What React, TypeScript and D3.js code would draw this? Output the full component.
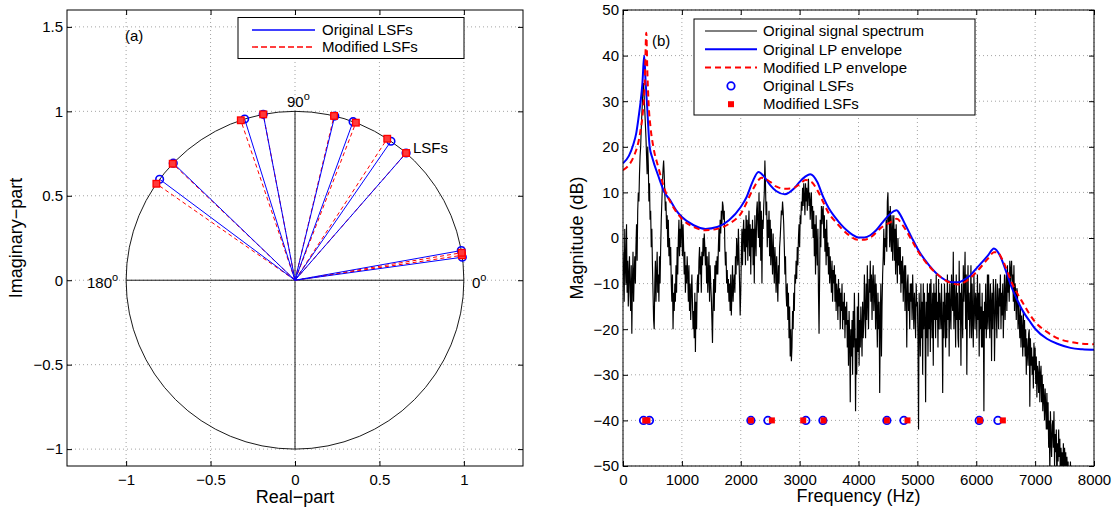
import React, { useRef, useEffect } from 'react';
import * as d3 from 'd3';

const FONT = '"Liberation Sans", Arial, Helvetica, sans-serif';
const NYQ = 8000; // Hz, half of the 16 kHz sampling rate

// line spectral frequencies (Hz)
const origLSF = [348, 450, 2172, 2461, 3106, 3395, 4482, 4771, 6050, 6368];
const modLSF = [377, 416, 2172, 2529, 3061, 3406, 4482, 4832, 6062, 6452];

// original LP envelope
const envOrigHz = [0, 100, 175, 225, 265, 300, 330, 360, 385, 405, 453, 500, 600, 705, 800, 900, 1000, 1200, 1400, 1600, 1800, 2000, 2100, 2200, 2300, 2400, 2500, 2600, 2750, 2900, 3000, 3100, 3180, 3300, 3400, 3500, 3600, 3700, 3800, 3900, 4000, 4100, 4200, 4300, 4400, 4500, 4600, 4650, 4700, 4800, 4900, 5000, 5200, 5400, 5600, 5700, 5800, 5900, 6000, 6100, 6200, 6300, 6400, 6500, 6600, 6700, 6800, 6900, 7000, 7200, 7400, 7600, 7800, 8000];
const envOrigDb = [16.4, 18, 20.5, 23, 26.5, 30, 34, 40, 34, 30, 20, 17.5, 13.6, 10, 8.3, 6.1, 4.6, 2.8, 2, 2.4, 3.9, 6.8, 9, 12.3, 14.5, 13.4, 11.6, 10.3, 9.6, 10.8, 12.3, 13.5, 14, 12.3, 9, 6.4, 4.6, 3, 1.7, 0.7, 0.1, 0.1, 0.6, 1.7, 3.3, 4.8, 5.9, 6.1, 5.3, 2.8, 0.2, -2.3, -6, -8.6, -9.7, -9.7, -9.1, -8.2, -6.7, -5.3, -3.8, -2.3, -3.8, -7.1, -10.8, -13.7, -16.2, -18.1, -19.9, -22.1, -23.3, -24.1, -24.4, -24.5];

// modified LP envelope
const envModHz = [0, 100, 180, 290, 340, 370, 395, 415, 433, 470, 515, 600, 727, 800, 1000, 1200, 1400, 1600, 1800, 2000, 2200, 2300, 2350, 2500, 2600, 2750, 2900, 3000, 3100, 3200, 3300, 3400, 3500, 3600, 3800, 4000, 4100, 4200, 4400, 4550, 4650, 4750, 4900, 5000, 5200, 5400, 5600, 5700, 5800, 6000, 6200, 6300, 6350, 6450, 6500, 6600, 6700, 6800, 6900, 7000, 7200, 7400, 7600, 7800, 8000];
const envModDb = [14.9, 16, 17.8, 23, 28, 34, 45, 36, 30, 24, 20, 15.5, 10, 8, 4.2, 2.4, 1.7, 2, 3.1, 5.3, 10.5, 12.7, 13.2, 12.3, 11.3, 10.8, 11, 11.8, 12.7, 12.3, 10.5, 7.9, 5.3, 3.7, 1, -0.4, -0.4, 0.1, 2.4, 3.5, 4.2, 2.8, -0.4, -2.7, -6.2, -8.6, -10, -10.2, -9.7, -7.5, -4.5, -3.1, -3.1, -4.9, -6.4, -9.7, -12.2, -14.4, -16.6, -18.4, -20.6, -22.1, -22.8, -23.2, -23.3];

// original signal spectrum, one value every 10 Hz from 0 Hz (one row per 100 Hz)
const specStep = 10;
const spectrumDb = [
  -3, -8, -14, 2, -6, -10, 3, -12, -5, -15,
  -8, -4, -12, -16, -6, -21, -10, -3, -14, -8,
  -4, -10, -2, 3, -5, 6, 10, 8, 14, 18,
  20, 24, 27, 30, 33, 34, 31, 28, 25, 22,
  18, 14, 20, 16, 8, 12, 4, 6, -2, 2,
  -6, -12, -18, -20, -10, -5, -14, -8, -3, -12,
  -8, -14, -4, -10, -2, 4, 8, 12, 15, 17,
  14, 10, 6, 8, 2, 5, -2, 4, -4, 0,
  -6, -2, -10, -14, -8, -20, -12, -16, -10, -14,
  -6, -12, -2, -8, 0, 4, -4, 2, -2, 5,
  2, -4, 3, -2, -8, -3, -12, -6, -10, -4,
  -8, -14, -6, -16, -10, -18, -12, -8, -14, -20,
  -16, -22, -12, -25, -14, -20, -10, -8, -12, -5,
  -2, -8, -4, -12, -3, -6, 0, -4, 1, -2,
  -6, -2, -10, -4, -12, -8, -3, -14, -6, -10,
  -13, -18, -23, -14, -9, -16, -6, -12, -5, -8,
  -4, -8, -2, 2, -3, 4, 1, 6, 3, 8,
  7, 4, 6, -2, -6, -3, -10, -7, -12, -9,
  -14, -10, -16, -8, -17, -12, -6, -14, -10, -8,
  -12, -4, -8, 0, -3, -6, 2, -4, -10, -17,
  -12, -4, 2, -6, 1, 4, -3, 2, -6, 5,
  -2, 4, -5, 2, 6, -4, 3, -8, 2, -2,
  4, -6, 2, -10, 5, 0, -4, 6, 8, 3,
  0, 10, -2, 8, -5, 6, -10, 4, 2, 7,
  10, 17, 12, 5, 8, -2, 4, 0, 6, -4,
  4, -6, 2, -3, -8, 1, -5, -10, -2, -6,
  -12, -4, -9, -14, -6, -10, -2, 0, 3, 6,
  5, 8, 6, 3, -2, -8, -4, -12, -15, -10,
  -18, -12, -22, -15, -26, -20, -27, -24, -16, -20,
  -12, -16, -8, -10, -5, -9, -2, -6, 0, 3,
  -2, 5, 3, 8, 6, 11, 7, 12, 9, 5,
  12, 8, 11, 6, 10, 13, 7, 10, 4, 8,
  10, 2, 7, 0, 6, -4, 3, -8, 5, -2,
  -6, 2, -12, -21, -8, 4, -2, 7, 3, 6,
  7, 0, 5, -3, 2, -6, 4, -4, -1, -8,
  -2, -10, -4, -8, -12, -5, -14, -7, -10, -6,
  -14, -8, -16, -10, -12, -18, -9, -15, -11, -20,
  -12, -16, -10, -20, -14, -18, -12, -22, -15, -19,
  -14, -24, -18, -28, -16, -22, -36, -20, -26, -18,
  -30, -16, -24, -12, -20, -38, -22, -30, -15, -25,
  -12, -28, -18, -24, -15, -20, -26, -14, -22, -18,
  -8, -16, -22, -10, -18, -6, -14, -20, -9, -12,
  -5, -14, -8, -18, -10, -6, -16, -12, -8, -20,
  -10, -16, -24, -12, -20, -14, -34, -18, -10, -26,
  -15, -8, -4, 2, -6, 0, -2, 4, -3, 8,
  10, 3, 6, -2, 7, 0, -3, 5, -5, 2,
  5, -5, 2, -8, 3, -4, -10, 0, -6, -2,
  -8, -2, -12, -5, -10, -4, -14, -8, -6, -16,
  -6, -12, -24, -10, -8, -16, -12, -20, -10, -14,
  -10, -18, -8, -14, -20, -12, -16, -22, -10, -15,
  -14, -22, -42, -12, -18, -26, -10, -22, -14, -30,
  -10, -20, -12, -18, -36, -14, -22, -10, -26, -12,
  -20, -10, -25, -9, -16, -22, -12, -28, -10, -18,
  -12, -22, -8, -18, -14, -24, -9, -20, -12, -16,
  -20, -10, -18, -34, -14, -22, -10, -16, -24, -12,
  -22, -8, -18, -12, -26, -10, -16, -20, -8, -14,
  -16, -3, -20, -10, -14, -24, -8, -18, -12, -22,
  -24, -5, -18, -12, -28, -10, -16, -22, -6, -14,
  -10, -3, -20, -8, -30, -14, -6, -18, -12, -22,
  -16, -6, -22, -10, -18, -24, -8, -14, -20, -12,
  -14, -22, -8, -18, -12, -26, -10, -20, -15, -24,
  -12, -24, -16, -38, -14, -20, -10, -22, -18, -8,
  -20, -8, -16, -22, -10, -14, -27, -12, -20, -9,
  -12, -27, -18, -9, -16, -22, -10, -14, -20, -11,
  -15, -8, -20, -12, -17, -10, -22, -14, -8, -18,
  -12, -8, -16, -6, -12, -9, -14, -5, -10, -7,
  -5, -10, -8, -14, -6, -16, -10, -12, -18, -11,
  -12, -20, -14, -18, -22, -15, -24, -17, -20, -26,
  -16, -24, -18, -26, -20, -30, -22, -25, -28, -21,
  -20, -37, -22, -28, -24, -30, -26, -33, -23, -29,
  -24, -32, -26, -35, -28, -30, -34, -27, -36, -30,
  -28, -36, -30, -38, -32, -35, -40, -33, -37, -42,
  -34, -42, -36, -46, -40, -52, -38, -44, -48, -41,
  -40, -46, -38, -50, -43, -47, -42, -55, -45, -49,
  -42, -48, -44, -55, -46, -50, -47, -53, -45, -56,
  -46, -50, -47, -56, -48, -52, -49, -58, -51, -54,
  -49, -58, -53, -62, -55, -65, -60, -68, -63, -70,
];

const leftXTicks = [-1, -0.5, 0, 0.5, 1];
const leftYTicks = [-1, -0.5, 0, 0.5, 1, 1.5];
const rightXTicks = [0, 1000, 2000, 3000, 4000, 5000, 6000, 7000, 8000];
const rightYTicks = [-50, -40, -30, -20, -10, 0, 10, 20, 30, 40, 50];
const markerLevel = -40;

const fmt = (d: any) => String(d).replace('-', '\u2212');

function frame(svg: any, x: any, y: any, xTicks: number[], yTicks: number[]) {
  const [xa, xb] = x.range();
  const [yb, ya] = y.range();
  const grid = svg.append('g')
    .attr('stroke', '#8c8c8c')
    .attr('stroke-width', 0.8)
    .attr('stroke-dasharray', '1,3');
  grid.selectAll('.gx').data(xTicks).join('line')
    .attr('x1', (d: number) => x(d)).attr('x2', (d: number) => x(d))
    .attr('y1', ya).attr('y2', yb);
  grid.selectAll('.gy').data(yTicks).join('line')
    .attr('y1', (d: number) => y(d)).attr('y2', (d: number) => y(d))
    .attr('x1', xa).attr('x2', xb);
}

function axes(svg: any, x: any, y: any, xTicks: number[], yTicks: number[]) {
  const [xa, xb] = x.range();
  const [yb, ya] = y.range();
  const style = (g: any) => {
    g.select('.domain').remove();
    g.selectAll('line').attr('stroke', 'black');
    g.selectAll('text').attr('font-size', 15).attr('fill', 'black').attr('font-family', FONT);
  };
  svg.append('g').attr('transform', `translate(0,${yb})`)
    .call(d3.axisBottom(x).tickValues(xTicks).tickSize(-5).tickPadding(8).tickFormat(fmt)).call(style);
  svg.append('g').attr('transform', `translate(0,${ya})`)
    .call(d3.axisTop(x).tickValues(xTicks).tickSize(-5).tickFormat(() => '')).call(style);
  svg.append('g').attr('transform', `translate(${xa},0)`)
    .call(d3.axisLeft(y).tickValues(yTicks).tickSize(-5).tickPadding(4).tickFormat(fmt)).call(style);
  svg.append('g').attr('transform', `translate(${xb},0)`)
    .call(d3.axisRight(y).tickValues(yTicks).tickSize(-5).tickFormat(() => '')).call(style);
  svg.append('rect')
    .attr('x', xa).attr('y', ya).attr('width', xb - xa).attr('height', yb - ya)
    .attr('fill', 'none').attr('stroke', 'black').attr('stroke-width', 1);
}

function degLabel(svg: any, x: number, y: number, txt: string) {
  const t = svg.append('text').attr('x', x).attr('y', y).attr('font-size', 15);
  t.append('tspan').text(txt);
  t.append('tspan').attr('dy', -7).attr('font-size', 11).text('o');
}

function drawLeft(svg: any) {
  const x = d3.scaleLinear().domain([-1.35, 1.35]).range([67, 523]);
  const y = d3.scaleLinear().domain([-1.1, 1.6]).range([466, 10]);
  frame(svg, x, y, leftXTicks, leftYTicks);

  const g = svg.append('g');
  g.append('ellipse')
    .attr('cx', x(0)).attr('cy', y(0))
    .attr('rx', x(1) - x(0)).attr('ry', y(0) - y(1))
    .attr('fill', 'none').attr('stroke', 'black').attr('stroke-width', 0.9);
  g.append('line').attr('x1', x(-1)).attr('x2', x(1)).attr('y1', y(0)).attr('y2', y(0))
    .attr('stroke', 'black').attr('stroke-width', 0.9);
  g.append('line').attr('x1', x(0)).attr('x2', x(0)).attr('y1', y(1)).attr('y2', y(-1))
    .attr('stroke', 'black').attr('stroke-width', 0.9);

  const ang = (f: number) => (Math.PI * f) / NYQ;

  g.selectAll('.sm').data(modLSF).join('line')
    .attr('x1', x(0)).attr('y1', y(0))
    .attr('x2', (f: number) => x(Math.cos(ang(f))))
    .attr('y2', (f: number) => y(Math.sin(ang(f))))
    .attr('stroke', 'red').attr('stroke-width', 1).attr('stroke-dasharray', '4,3');
  g.selectAll('.so').data(origLSF).join('line')
    .attr('x1', x(0)).attr('y1', y(0))
    .attr('x2', (f: number) => x(Math.cos(ang(f))))
    .attr('y2', (f: number) => y(Math.sin(ang(f))))
    .attr('stroke', 'blue').attr('stroke-width', 1);
  g.selectAll('.co').data(origLSF).join('circle')
    .attr('cx', (f: number) => x(Math.cos(ang(f))))
    .attr('cy', (f: number) => y(Math.sin(ang(f))))
    .attr('r', 3.8).attr('fill', 'none').attr('stroke', 'blue').attr('stroke-width', 1.6);
  g.selectAll('.qm').data(modLSF).join('rect')
    .attr('x', (f: number) => x(Math.cos(ang(f))) - 3.3)
    .attr('y', (f: number) => y(Math.sin(ang(f))) - 3.3)
    .attr('width', 6.6).attr('height', 6.6)
    .attr('fill', '#ff3a3a').attr('stroke', 'red').attr('stroke-width', 1.3);

  axes(svg, x, y, leftXTicks, leftYTicks);

  degLabel(svg, 287, 107, '90');
  degLabel(svg, 87, 288, '180');
  degLabel(svg, 472, 288, '0');
  svg.append('text').attr('x', 413).attr('y', 153).attr('font-size', 15).text('LSFs');
  svg.append('text').attr('x', 125).attr('y', 41).attr('font-size', 15).text('(a)');

  // legend
  const lg = svg.append('g');
  lg.append('rect').attr('x', 238).attr('y', 17.5).attr('width', 226).attr('height', 41)
    .attr('fill', 'white').attr('stroke', 'black').attr('stroke-width', 1);
  const rows = [
    { label: 'Original LSFs', color: '#0000ff', dash: null, y: 30 },
    { label: 'Modified LSFs', color: '#ff0000', dash: '6,3', y: 47 },
  ];
  rows.forEach((r) => {
    lg.append('line').attr('x1', 252).attr('x2', 315).attr('y1', r.y).attr('y2', r.y)
      .attr('stroke', r.color).attr('stroke-width', 1.4).attr('stroke-dasharray', r.dash);
    lg.append('text').attr('x', 322).attr('y', r.y).attr('dy', '0.35em').attr('font-size', 15).text(r.label);
  });

  svg.append('text').attr('x', x(0)).attr('y', 503).attr('text-anchor', 'middle').attr('font-size', 18).text('Real\u2212part');
  svg.append('text').attr('transform', `translate(22,${(y.range()[0] + y.range()[1]) / 2}) rotate(-90)`)
    .attr('text-anchor', 'middle').attr('font-size', 18).text('Imaginary\u2212part');
}

function drawRight(svg: any) {
  const x = d3.scaleLinear().domain([0, NYQ]).range([623, 1094]);
  const y = d3.scaleLinear().domain([-50, 50]).range([466, 10]);
  frame(svg, x, y, rightXTicks, rightYTicks);

  svg.append('clipPath').attr('id', 'clipR').append('rect')
    .attr('x', 623).attr('y', 10).attr('width', 471).attr('height', 456);
  const g = svg.append('g').attr('clip-path', 'url(#clipR)');

  const spec = d3.line<number>().x((_, i) => x(i * specStep)).y((d) => y(d));
  g.append('path').attr('d', spec(spectrumDb))
    .attr('fill', 'none').attr('stroke', 'black').attr('stroke-width', 1.15);

  const env = (hz: number[], db: number[]) =>
    d3.line<number>().x((d) => x(d)).y((_, i) => y(db[i])).curve(d3.curveMonotoneX)(hz);
  g.append('path').attr('d', env(envOrigHz, envOrigDb))
    .attr('fill', 'none').attr('stroke', 'blue').attr('stroke-width', 2);
  g.append('path').attr('d', env(envModHz, envModDb))
    .attr('fill', 'none').attr('stroke', 'red').attr('stroke-width', 2).attr('stroke-dasharray', '6,4');

  g.selectAll('.mo').data(origLSF).join('circle')
    .attr('cx', (f: number) => x(f)).attr('cy', y(markerLevel))
    .attr('r', 3.7).attr('fill', 'none').attr('stroke', 'blue').attr('stroke-width', 1.8);
  g.selectAll('.mm').data(modLSF).join('rect')
    .attr('x', (f: number) => x(f) - 3).attr('y', y(markerLevel) - 3)
    .attr('width', 6).attr('height', 6).attr('fill', 'red');

  axes(svg, x, y, rightXTicks, rightYTicks);

  svg.append('text').attr('x', 652).attr('y', 46).attr('font-size', 15).text('(b)');

  const lg = svg.append('g');
  lg.append('rect').attr('x', 694).attr('y', 19).attr('width', 281).attr('height', 96)
    .attr('fill', 'white').attr('stroke', 'black').attr('stroke-width', 1);
  const rows = [
    { label: 'Original signal spectrum', kind: 'line', color: 'black', w: 1, dash: null },
    { label: 'Original LP envelope', kind: 'line', color: 'blue', w: 2, dash: null },
    { label: 'Modified LP envelope', kind: 'line', color: 'red', w: 2, dash: '6,4' },
    { label: 'Original LSFs', kind: 'circle', color: 'blue', w: 1.8, dash: null },
    { label: 'Modified LSFs', kind: 'square', color: 'red', w: 0, dash: null },
  ];
  const rowY = [31, 49.3, 67.6, 85.9, 104.2];
  rows.forEach((r, i) => {
    const yy = rowY[i];
    if (r.kind === 'line') {
      lg.append('line').attr('x1', 705).attr('x2', 757).attr('y1', yy).attr('y2', yy)
        .attr('stroke', r.color).attr('stroke-width', r.w).attr('stroke-dasharray', r.dash);
    } else if (r.kind === 'circle') {
      lg.append('circle').attr('cx', 731).attr('cy', yy).attr('r', 3.7)
        .attr('fill', 'none').attr('stroke', r.color).attr('stroke-width', r.w);
    } else {
      lg.append('rect').attr('x', 728).attr('y', yy - 3).attr('width', 6).attr('height', 6).attr('fill', r.color);
    }
    lg.append('text').attr('x', 763).attr('y', yy).attr('dy', '0.35em').attr('font-size', 15).text(r.label);
  });

  svg.append('text').attr('x', (623 + 1094) / 2).attr('y', 502).attr('text-anchor', 'middle').attr('font-size', 18).text('Frequency (Hz)');
  svg.append('text').attr('transform', `translate(583,${(10 + 466) / 2}) rotate(-90)`)
    .attr('text-anchor', 'middle').attr('font-size', 18).text('Magnitude (dB)');
}

const App = () => {
  const svgRef = useRef<SVGSVGElement>(null);

  useEffect(() => {
    const svg = d3.select(svgRef.current)
      .attr('width', 1113)
      .attr('height', 510)
      .style('font-family', FONT);
    svg.selectAll('*').remove();
    svg.append('rect').attr('width', 1113).attr('height', 510).attr('fill', 'white');
    drawLeft(svg);
    drawRight(svg);
  }, []);

  return <svg ref={svgRef} style={{ position: 'absolute', left: 0, top: 0 }} />;
};

export default App;
